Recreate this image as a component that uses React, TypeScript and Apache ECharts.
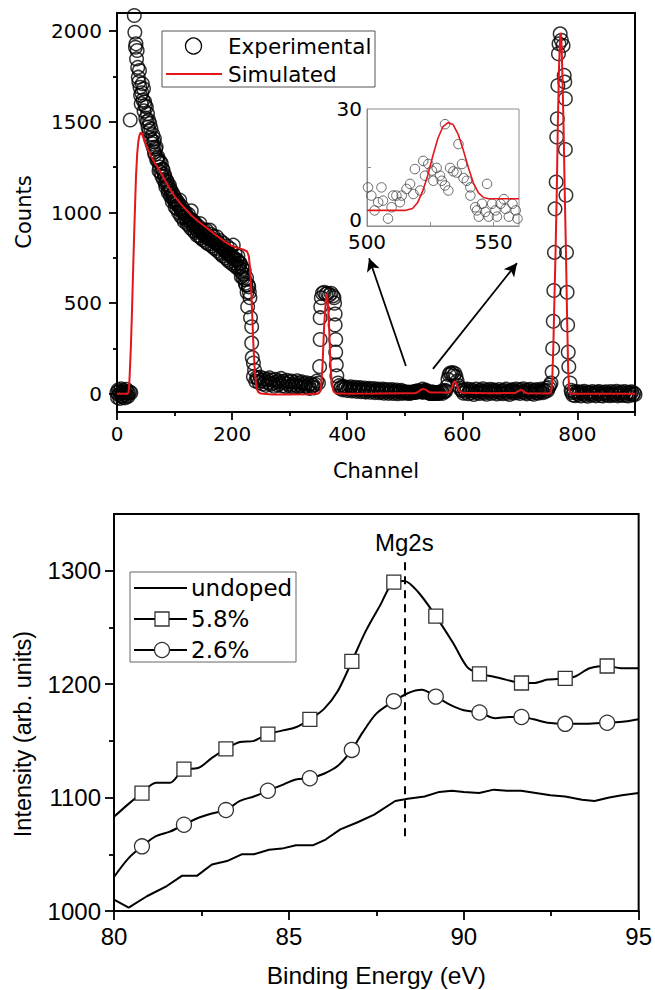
import React, { useEffect, useRef } from "react";
import * as echarts from "echarts";

const F1 = "'DejaVu Sans', sans-serif";
const F2 = "'Liberation Sans', Arial, sans-serif";
const RED = "#e3161c";

// ---------- Top chart: experimental counts [channel, counts] ----------
const expStart = [[0,8],[1,-20],[2,22],[3,-5],[4,15],[5,-25],[6,4],[7,28],[8,-12],[9,10],[10,-18],[11,20],[12,-3],[13,14],[14,-22],[15,6],[16,25],[17,-10],[18,12],[19,-15],[20,3],[22,10],[24,6]];
const expDecay = [[23,1510],[30,2086],[31,1994],[32,1911],[33,1930],[34,1847],[35,1893],[36,1800],[37,1746],[38,1720],[39,1783],[40,1690],[41,1646],[42,1600],[43,1660],[44,1710],[45,1620],[46,1682],[47,1560],[48,1610],[49,1590],[50,1520],[51,1581],[52,1500],[53,1545],[54,1470],[55,1508],[56,1450],[57,1490],[58,1410],[59,1462],[60,1400],[61,1380],[62,1430],[63,1360],[64,1390],[65,1407],[65,1333],[66,1320],[67,1350],[68,1361],[69,1290],[70,1300],[71,1306],[72,1280],[73,1230],[74,1251],[75,1280],[76,1220],[77,1270],[78,1200],[79,1240],[80,1233],[81,1180],[82,1210],[83,1200],[84,1160],[85,1140],[86,1178],[87,1170],[88,1150],[89,1110],[90,1120],[91,1150],[92,1132],[93,1090],[94,1120],[95,1090],[96,1060],[97,1104],[98,1075],[99,1090],[100,1060],[101,1030],[102,1070],[103,1050],[104,1020],[105,1060],[106,1040],[107,1000],[108,1045],[109,1068],[110,1020],[111,980],[112,1010],[113,1030],[114,970],[115,1000],[116,1010],[117,950],[118,975],[119,1000],[120,985],[121,958],[122,940],[123,975],[124,990],[125,930],[126,965],[127,950],[128,915],[129,1009],[130,960],[131,955],[132,930],[133,900],[134,940],[135,945],[136,890],[137,925],[138,910],[139,875],[140,900],[141,925],[142,915],[143,870],[144,939],[145,905],[146,860],[147,890],[148,900],[149,850],[150,905],[151,885],[152,870],[153,880],[154,840],[155,903],[156,875],[157,830],[158,860],[159,870],[160,825],[161,903],[162,860],[163,880],[164,850],[165,815],[166,850],[167,870],[168,805],[169,845],[170,835],[171,800],[172,835],[173,866],[174,790],[175,840],[176,820],[177,825],[178,780],[179,845],[180,815],[181,770],[182,810],[183,805],[184,760],[185,830],[186,800],[187,790],[188,790],[189,750],[190,785],[191,815],[192,740],[193,770],[194,775],[195,730],[196,770],[197,800],[198,760],[199,720],[200,760],[201,750],[202,820],[203,710],[204,745],[205,774],[206,720],[207,700],[208,740],[209,735],[210,760],[211,690],[212,700],[213,720],[214,720],[215,675],[216,646],[217,700],[218,690],[219,640],[220,660],[221,680],[222,630],[223,610],[224,600],[225,640],[226,560],[227,480],[228,600],[229,590],[230,560],[231,530],[232,420],[234,370],[234,280],[235,200],[237,170],[237,95],[239,130],[241,70],[243,90]];
const expPlateau = [[245,85],[247,62],[249,92],[251,74],[253,55],[255,84],[257,68],[259,47],[261,80],[263,63],[265,88],[267,52],[269,76],[271,58],[273,42],[275,80],[277,66],[279,49],[281,72],[283,57],[285,85],[287,44],[289,69],[291,61],[293,40],[295,75],[297,54],[299,66],[301,42],[303,70],[305,50],[307,37],[309,63],[311,47],[313,72],[315,39],[317,58],[319,45],[321,66],[323,34],[325,55],[327,42],[329,61],[331,37],[333,50],[335,30],[337,57],[339,40],[341,48],[343,33],[345,52],[347,70]];
const expPeak1 = [[350,60],[352,150],[353,300],[353,420],[354,480],[355,530],[357,555],[360,560],[363,550],[366,555],[369,545],[372,555],[375,540],[377,530],[378,500],[379,440],[379,380],[380,300],[380,230],[381,160],[382,100],[384,60]];
const expBase2 = [[386,45],[388,30],[390,38],[392,22],[394,41],[396,27],[398,35],[400,18],[402,33],[404,25],[406,39],[408,16],[410,30],[412,23],[414,36],[416,14],[418,28],[420,21],[422,34],[424,12],[426,27],[428,19],[430,32],[432,10],[434,25],[436,18],[438,30],[440,9],[442,24],[444,16],[446,29],[448,7],[450,22],[452,15],[454,27],[456,6],[458,20],[460,13],[462,26],[464,4],[466,19],[468,12],[470,24],[472,3],[474,17],[476,10],[478,23],[480,2],[482,16],[484,9],[486,21],[488,1],[490,14],[492,8],[494,19],[496,3],[498,12]];
const expBase2b = [[562,8],[564,15],[566,3],[568,12],[570,20]];
const expPeak2 = [[571,15],[573,40],[575,80],[577,105],[579,115],[581,110],[583,118],[585,100],[587,112],[589,95],[591,70],[593,45],[596,30],[599,20]];
const expBase3 = [[600,18],[602,4],[604,22],[606,9],[608,27],[610,1],[612,15],[614,24],[616,6],[618,19],[620,-3],[622,13],[624,26],[626,8],[628,17],[630,2],[632,21],[634,11],[636,28],[638,5],[640,16],[642,-2],[644,20],[646,10],[648,25],[650,3],[652,14],[654,22],[656,7],[658,18],[660,-1],[662,12],[664,24],[666,6],[668,16],[670,1],[672,20],[674,9],[676,26],[678,4],[680,15],[682,-3],[684,19],[686,11],[688,23],[690,5],[692,14],[694,27],[696,8],[698,18],[700,2],[702,22],[704,12],[706,28],[708,6],[710,17],[712,0],[714,21],[716,10],[718,25],[720,3],[722,15],[724,-2],[726,19],[728,8],[730,24],[732,4],[734,16],[736,11],[738,26],[740,6],[742,20],[744,13],[746,30],[748,18],[750,35],[752,48]];
const expPeak3 = [[754,60],[756,120],[757,250],[758,400],[759,570],[760,780],[761,1020],[763,1168],[764,1416],[765,1517],[766,1700],[767,1875],[768,1930],[770,1985],[772,1950],[775,1921],[777,1756],[778,1719],[779,1627],[779,1347],[780,1095],[781,780],[782,560],[783,380],[784,230],[785,150],[787,60],[789,20]];
const expBase4 = [[790,8],[792,-6],[794,11],[796,-10],[798,4],[800,13],[802,-3],[804,7],[806,-12],[808,10],[810,-1],[812,14],[814,-8],[816,5],[818,-13],[820,9],[822,2],[824,-7],[826,12],[828,-4],[830,6],[832,-11],[834,10],[836,0],[838,13],[840,-9],[842,3],[844,-12],[846,8],[848,-2],[850,11],[852,-6],[854,5],[856,-10],[858,12],[860,1],[862,-8],[864,9],[866,-3],[868,14],[870,-11],[872,4],[874,-5],[876,10],[878,-9],[880,2],[882,13],[884,-7],[886,6],[888,-12],[890,9],[892,-1],[894,11],[896,-6],[898,5],[900,-3]];

// ---------- Inset (500-560) ----------
const insetExp = [[500.4,9.9],[501.7,7.8],[503,4],[504.4,6.1],[505.7,9.9],[506.3,6.5],[508.3,1.9],[509.7,4.8],[510.3,7.8],[511.6,7.8],[513,6.1],[513.7,7.8],[515.6,9.5],[517,10.8],[518.3,8.2],[518.9,14.6],[521,9.1],[522.2,16.7],[522.9,12.9],[524.2,15.9],[525.6,14.2],[526.2,11.6],[527.5,14.9],[528.8,12.9],[529.5,11.6],[530.8,10.4],[530.8,26.1],[532.1,9.1],[532.8,14.9],[534.1,14],[535.4,13.7],[536.1,21],[537.5,15.9],[538.1,12.3],[539.4,11.6],[540.8,9.9],[540.8,7.8],[542.7,4.8],[543.4,4],[544.1,2.4],[545.4,5.7],[546.7,3.6],[547.4,10.8],[548,2.4],[549.4,5.7],[550.7,4],[551.3,2.4],[552.7,5.7],[554,6.9],[554.7,4.4],[556,2.4],[557.4,5.7],[558.7,4],[559.4,1.9]];
const insetSim = [[500,4],[515,4],[518,4.5],[520,6],[522,9],[524,13],[526,18],[528,22.5],[530,25.5],[532,26.5],[534,26],[536,23.5],[538,19.5],[540,15],[542,11],[544,8.5],[546,7.3],[548,7],[560,7]];

// ---------- Top chart: simulated ----------
const simA = [[0,0],[10,0],[18,0],[20,8],[21,40],[22,100],[24,250],[26,450],[28,680],[30,900],[31,1000],[33,1200],[35,1320],[37,1390],[39,1425],[41,1440],[43,1438],[46,1410],[50,1375],[55,1340],[60,1305],[67,1265],[74,1233],[82,1185],[90,1140],[100,1090],[110,1050],[120,1015],[129,985],[140,955],[150,930],[162,900],[175,868],[188,838],[200,815],[210,805],[220,795],[226,785],[229,760],[231,700],[233,590],[235,430],[237,270],[239,150],[241,70],[243,25],[246,8],[250,2],[270,-3],[300,-4],[330,-2],[345,0],[350,3],[354,20],[357,150],[360,380],[363,530],[365,550],[367,480],[369,330],[371,160],[373,60],[376,15],[380,3],[400,1],[450,2],[498,4]];
const simB = [[565,7],[575,6],[579,12],[582,35],[585,65],[587,70],[589,60],[592,35],[595,15],[600,6],[650,4],[692,5],[696,12],[700,20],[704,20],[708,10],[712,4],[750,2],[754,5],[756,60],[758,250],[760,520],[762,790],[764,1100],[766,1500],[768,1800],[770,1975],[771,1990],[772,1960],[774,1750],[776,1450],[778,1100],[780,790],[782,420],[784,120],[786,20],[788,2],[800,0],[900,0]];

const arrowLeft = [[502,154],[438,748]];
const arrowRight = [[549,138],[695,721]];

const chTicks = [0,200,400,600,800];
const chMinor = [100,300,500,700,900];
const countTicks = [0,500,1000,1500,2000];
const countMinor = [250,750,1250,1750];
const insetXLabels = [500,550];
const insetXTicks = [525,550];
const insetYLabels = [0,30];
const insetYTicks = [15];

// ---------- Bottom chart ----------
const eUndoped = [80,80.42,80.94,81.51,81.94,82.37,82.8,83.23,83.65,84,84.43,84.8,85.2,85.7,86.05,86.47,86.95,87.44,88.04,88.4,88.88,89.3,89.66,90,90.44,90.86,91.23,91.64,92.06,92.48,92.9,93.38,93.74,94.16,94.52,95];
const vUndoped = [1010,1003,1013,1022,1031,1031,1041,1044,1050,1050,1054,1055,1058,1058,1063,1072,1078,1085,1097,1099,1101,1105,1106,1105,1104,1107,1106,1106,1104,1102,1101,1098,1097,1100,1102,1104];
const e58 = [80,80.4,80.8,81.2,81.6,82,82.4,82.8,83.2,83.6,84,84.4,84.8,85.2,85.6,86,86.4,86.8,87.2,87.6,88,88.3,88.7,89.2,89.7,90.1,90.45,90.8,91.2,91.65,92,92.4,92.9,93.2,93.6,94.1,94.5,95];
const v58 = [1083,1094,1104,1113,1113,1125,1126,1135,1143,1149,1150,1156,1159,1162,1169,1178,1194,1220,1247,1269,1290,1291,1281,1260,1236,1215,1209,1207,1204,1201,1201,1204,1205,1207,1214,1216,1214,1214];
const e26 = [80,80.4,80.8,81.2,81.6,82,82.4,82.8,83.2,83.6,84,84.4,84.8,85.2,85.6,86,86.4,86.8,87.1,87.5,88,88.4,88.8,89.2,89.6,90,90.45,90.9,91.3,91.65,92,92.4,92.9,93.5,94.1,94.6,95];
const v26 = [1030,1046,1057,1066,1070,1076,1082,1086,1089,1097,1101,1106,1111,1116,1117,1121,1128,1142,1157,1174,1185,1192,1195,1189,1182,1177,1175,1170,1171,1171,1169,1166,1165,1165,1166,1167,1169];
const markerE = [80.8,82,83.2,84.4,85.6,86.8,88,89.2,90.45,91.65,92.9,94.1];
const mg2sLine = [[88.3,1066],[88.3,1309]];
const beTicks = [80,85,90,95];
const beMinor = [82.5,87.5,92.5];
const intTicks = [1000,1100,1200,1300];
const intMinor = [1050,1150,1250];

function withMarkers(es: number[], vs: number[]) {
  return es.map((e, i) =>
    markerE.indexOf(e) >= 0 ? { value: [e, vs[i]] } : { value: [e, vs[i]], symbol: "none" }
  );
}

const fmt = (v: number) => String(v);

function majorAxis(grid: number, min: number, max: number, ticks: number[], len: number, font: string, size: number, margin: number, extra: any = {}) {
  return {
    gridIndex: grid, type: "value", min, max,
    axisLine: { show: true, onZero: false, lineStyle: { color: "#000", width: 2 } },
    axisTick: { show: true, length: len, customValues: ticks, lineStyle: { color: "#000", width: 1.8 } },
    axisLabel: { customValues: ticks, margin, fontFamily: font, fontSize: size, color: "#000", formatter: fmt },
    splitLine: { show: false },
    ...extra,
  };
}
function minorAxis(grid: number, min: number, max: number, ticks: number[], len: number, extra: any = {}) {
  return {
    gridIndex: grid, type: "value", min, max,
    axisLine: { show: false, onZero: false },
    axisTick: { show: true, length: len, customValues: ticks, lineStyle: { color: "#000", width: 1.8 } },
    axisLabel: { show: false },
    splitLine: { show: false },
    ...extra,
  };
}

export default function App() {
  const ref = useRef<HTMLDivElement>(null);
  useEffect(() => {
    const chart = echarts.init(ref.current!, null, { renderer: "svg" });
    const expData = [...expStart, ...expDecay, ...expPlateau, ...expPeak1, ...expBase2, ...insetExp, ...expBase2b, ...expPeak2, ...expBase3, ...expPeak3, ...expBase4];
    const simData = [...simA, ...insetSim, ...simB];
    const gray = "#8c8c8c";
    const option: any = {
      animation: false,
      backgroundColor: "#fff",
      textStyle: { fontFamily: F1 },
      grid: [
        { left: 117, top: 13, width: 518, height: 399, show: true, borderColor: "#000", borderWidth: 2, backgroundColor: "transparent" },
        { left: 367, top: 109, width: 152, height: 117, show: true, borderColor: gray, borderWidth: 1, backgroundColor: "#fff" },
        { left: 114, top: 514, width: 525, height: 397, show: true, borderColor: "#000", borderWidth: 2, backgroundColor: "transparent" },
      ],
      xAxis: [
        majorAxis(0, 0, 900, chTicks, 8, F1, 20, 12, {
          position: "bottom", name: "Channel", nameLocation: "middle", nameGap: 48,
          nameTextStyle: { fontFamily: F1, fontSize: 21, color: "#000" },
        }),
        minorAxis(0, 0, 900, chMinor, 4, { position: "bottom" }),
        {
          gridIndex: 1, type: "value", min: 500, max: 560, position: "bottom",
          axisLine: { show: true, onZero: false, lineStyle: { color: gray, width: 1 } },
          axisTick: { show: true, inside: true, length: 4, customValues: insetXTicks, lineStyle: { color: gray, width: 1 } },
          axisLabel: { customValues: insetXLabels, margin: 6, fontFamily: F1, fontSize: 20, color: "#000", formatter: fmt },
          splitLine: { show: false },
        },
        majorAxis(2, 80, 95, beTicks, 9, F2, 24, 13, {
          position: "bottom", name: "Binding Energy (eV)", nameLocation: "middle", nameGap: 52,
          nameTextStyle: { fontFamily: F2, fontSize: 24.5, color: "#000" },
        }),
        minorAxis(2, 80, 95, beMinor, 5, { position: "bottom" }),
      ],
      yAxis: [
        majorAxis(0, -100, 2100, countTicks, 8, F1, 20, 15, { position: "left" }),
        minorAxis(0, -100, 2100, countMinor, 4, { position: "left" }),
        {
          gridIndex: 1, type: "value", min: 0, max: 30, position: "left",
          axisLine: { show: true, onZero: false, lineStyle: { color: gray, width: 1 } },
          axisTick: { show: true, inside: true, length: 4, customValues: insetYTicks, lineStyle: { color: gray, width: 1 } },
          axisLabel: {
            customValues: insetYLabels, margin: 5, color: "#000",
            formatter: (v: number) => (v === 0 ? "{lo|0}" : "{hi|" + v + "}"),
            rich: {
              lo: { fontFamily: F1, fontSize: 20, color: "#000", padding: [0, 0, 12, 0] },
              hi: { fontFamily: F1, fontSize: 20, color: "#000" },
            },
          },
          splitLine: { show: false },
        },
        majorAxis(2, 1000, 1350, intTicks, 9, F2, 24, 13, { position: "left" }),
        minorAxis(2, 1000, 1350, intMinor, 5, { position: "left" }),
      ],
      series: [
        {
          name: "Experimental", type: "scatter", xAxisIndex: 0, yAxisIndex: 0, data: expData,
          symbol: "circle", symbolSize: 13.5, silent: true, z: 3,
          itemStyle: { color: "rgba(0,0,0,0)", borderColor: "#000", borderWidth: 1.5 },
        },
        {
          name: "Simulated", type: "line", xAxisIndex: 0, yAxisIndex: 0, data: simData,
          symbol: "none", silent: true, z: 4, lineStyle: { color: RED, width: 2 },
          markLine: {
            silent: true, symbol: ["none", "arrow"], symbolSize: [10, 13], animation: false,
            lineStyle: { color: "#000", width: 1.8, type: "solid" }, label: { show: false },
            data: [
              [{ coord: arrowLeft[0] }, { coord: arrowLeft[1] }],
              [{ coord: arrowRight[0] }, { coord: arrowRight[1] }],
            ],
          },
        },
        {
          name: "Experimental (inset)", type: "scatter", xAxisIndex: 2, yAxisIndex: 2, data: insetExp,
          symbol: "circle", symbolSize: 9.5, silent: true, z: 5,
          itemStyle: { color: "rgba(0,0,0,0)", borderColor: "#444", borderWidth: 1 },
        },
        {
          name: "Simulated (inset)", type: "line", xAxisIndex: 2, yAxisIndex: 2, data: insetSim,
          symbol: "none", silent: true, z: 6, lineStyle: { color: RED, width: 1.6 },
        },
        {
          name: "undoped", type: "line", xAxisIndex: 3, yAxisIndex: 3,
          data: eUndoped.map((e, i) => [e, vUndoped[i]]),
          symbol: "none", silent: true, lineStyle: { color: "#000", width: 2 },
        },
        {
          name: "5.8%", type: "line", xAxisIndex: 3, yAxisIndex: 3, data: withMarkers(e58, v58),
          symbol: "rect", symbolSize: 14, showAllSymbol: true, smooth: 0.3, silent: true,
          lineStyle: { color: "#000", width: 2 },
          itemStyle: { color: "#fff", borderColor: "#333", borderWidth: 1.3 },
          markLine: {
            silent: true, symbol: ["none", "none"], animation: false,
            lineStyle: { color: "#000", width: 2, type: [8, 6] },
            label: { show: true, position: "end", formatter: "Mg2s", distance: 6, fontFamily: F2, fontSize: 24, color: "#000" },
            data: [[{ coord: mg2sLine[0] }, { coord: mg2sLine[1] }]],
          },
        },
        {
          name: "2.6%", type: "line", xAxisIndex: 3, yAxisIndex: 3, data: withMarkers(e26, v26),
          symbol: "circle", symbolSize: 15, showAllSymbol: true, smooth: 0.3, silent: true,
          lineStyle: { color: "#000", width: 2 },
          itemStyle: { color: "#fff", borderColor: "#333", borderWidth: 1.3 },
        },
      ],
      graphic: {
        elements: [
          { type: "text", x: 24, y: 212, rotation: Math.PI / 2, z: 50,
            style: { text: "Counts", fontFamily: F1, fontSize: 21, fill: "#000", align: "center", verticalAlign: "middle" } },
          { type: "text", x: 23, y: 734, rotation: Math.PI / 2, z: 50,
            style: { text: "Intensity (arb. units)", fontFamily: F2, fontSize: 23.5, fill: "#000", align: "center", verticalAlign: "middle" } },
          { type: "rect", z: 60, shape: { x: 162, y: 31, width: 213, height: 56 }, style: { fill: "#fff", stroke: "#555", lineWidth: 1 } },
          { type: "circle", z: 61, shape: { cx: 193.5, cy: 46, r: 8 }, style: { fill: "none", stroke: "#000", lineWidth: 1.3 } },
          { type: "line", z: 61, shape: { x1: 166, y1: 74, x2: 222, y2: 74 }, style: { stroke: RED, lineWidth: 2 } },
          { type: "text", z: 61, x: 228, y: 46, style: { text: "Experimental", fontFamily: F1, fontSize: 21.5, fill: "#000", verticalAlign: "middle" } },
          { type: "text", z: 61, x: 228, y: 74, style: { text: "Simulated", fontFamily: F1, fontSize: 21.5, fill: "#000", verticalAlign: "middle" } },
          { type: "rect", z: 60, shape: { x: 130, y: 572, width: 166, height: 90 }, style: { fill: "#fff", stroke: "#666", lineWidth: 1 } },
          { type: "line", z: 61, shape: { x1: 134, y1: 588, x2: 187, y2: 588 }, style: { stroke: "#000", lineWidth: 2 } },
          { type: "line", z: 61, shape: { x1: 134, y1: 619, x2: 187, y2: 619 }, style: { stroke: "#000", lineWidth: 2 } },
          { type: "line", z: 61, shape: { x1: 134, y1: 650, x2: 187, y2: 650 }, style: { stroke: "#000", lineWidth: 2 } },
          { type: "rect", z: 62, shape: { x: 155, y: 612, width: 14, height: 14 }, style: { fill: "#fff", stroke: "#333", lineWidth: 1.3 } },
          { type: "circle", z: 62, shape: { cx: 162, cy: 650, r: 7.5 }, style: { fill: "#fff", stroke: "#333", lineWidth: 1.3 } },
          { type: "text", z: 61, x: 191, y: 588, style: { text: "undoped", fontFamily: F1, fontSize: 23, fill: "#000", verticalAlign: "middle" } },
          { type: "text", z: 61, x: 191, y: 619, style: { text: "5.8%", fontFamily: F1, fontSize: 23, fill: "#000", verticalAlign: "middle" } },
          { type: "text", z: 61, x: 191, y: 650, style: { text: "2.6%", fontFamily: F1, fontSize: 23, fill: "#000", verticalAlign: "middle" } },
        ],
      },
    };
    chart.setOption(option);
    return () => chart.dispose();
  }, []);
  return (
    <div
      ref={ref}
      style={{ position: "absolute", left: 0, top: 0, width: 655, height: 990, background: "#fff" }}
    />
  );
}
